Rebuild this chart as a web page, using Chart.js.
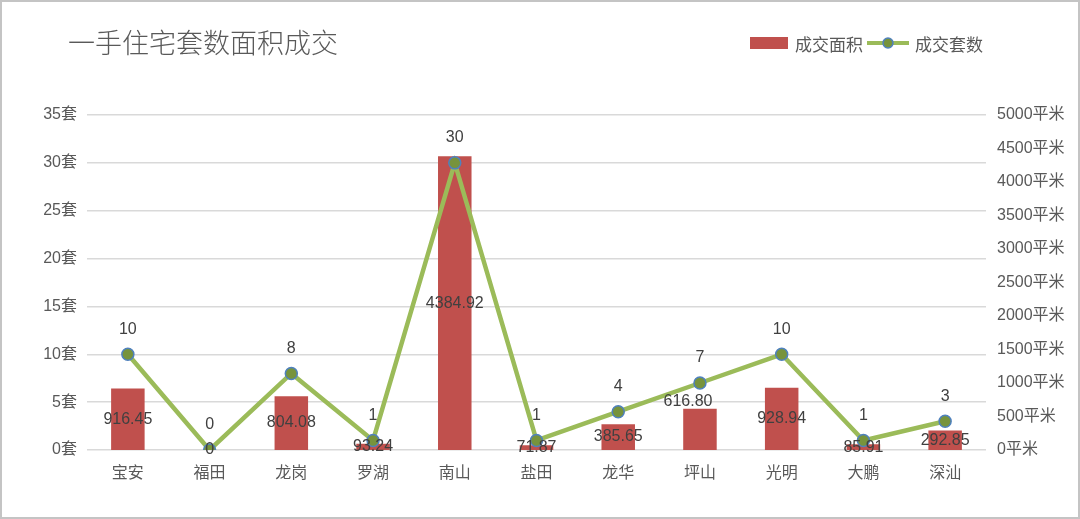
<!DOCTYPE html>
<html>
<head>
<meta charset="utf-8">
<script src="https://cdn.jsdelivr.net/npm/chart.js@4.4.1/dist/chart.umd.min.js"></script>
<style>
  body { margin: 0; background: #fff; }
  #wrap { position: relative; width: 1080px; height: 519px; overflow: hidden; background: #fff; }
  #frame { position: absolute; left: 0; top: 0; width: 1080px; height: 519px; box-sizing: border-box;
           border: 2px solid #c4c4c4; pointer-events: none; }
  #title { position: absolute; left: 68px; top: 23px; font: 300 27px 'Noto Sans CJK SC', sans-serif;
           color: #595959; line-height: 38px; white-space: nowrap; }
  #legend { position: absolute; left: 750px; top: 33px; height: 20px; display: flex; align-items: center;
            font: 17px 'Noto Sans CJK SC', sans-serif; color: #595959; white-space: nowrap; }
  #legend .item { display: flex; align-items: center; margin-right: 4px; }
  #legend .bar { width: 38px; height: 12px; margin-right: 7px; }
  #legend canvas { margin-right: 6px; }
</style>
</head>
<body>
<div id="wrap">
  <canvas id="myChart" width="1080" height="519"></canvas>
  <div id="title"></div>
  <div id="legend"></div>
  <div id="frame"></div>
</div>
<script>
// chart data
const chartTitle = "一手住宅套数面积成交";
const districts = ["宝安", "福田", "龙岗", "罗湖", "南山", "盐田", "龙华", "坪山", "光明", "大鹏", "深汕"];
const areaValues = [916.45, 0, 804.08, 93.24, 4384.92, 71.87, 385.65, 616.80, 928.94, 85.91, 292.85];
const unitValues = [10, 0, 8, 1, 30, 1, 4, 7, 10, 1, 3];
const seriesNames = ["成交面积", "成交套数"];
const unitAxisMax = 35, unitAxisStep = 5, unitSuffix = "套";
const areaAxisMax = 5000, areaAxisStep = 500, areaSuffix = "平米";

const FONT = "'Liberation Sans', 'Noto Sans CJK SC', sans-serif";
const barColor = "#C0504D";
const lineColor = "#9BBB59";
const pointFill = "#77933C";
const pointEdge = "#4F81BD";

// title + legend (html)
document.getElementById("title").textContent = chartTitle;

function buildLegend() {
  const legend = document.getElementById("legend");

  const barItem = document.createElement("div");
  barItem.className = "item";
  const sw = document.createElement("span");
  sw.className = "bar";
  sw.style.background = barColor;
  barItem.appendChild(sw);
  barItem.appendChild(document.createTextNode(seriesNames[0]));
  legend.appendChild(barItem);

  const lineItem = document.createElement("div");
  lineItem.className = "item";
  const c = document.createElement("canvas");
  c.width = 42; c.height = 14;
  const g = c.getContext("2d");
  g.strokeStyle = lineColor; g.lineWidth = 4;
  g.beginPath(); g.moveTo(0, 7); g.lineTo(42, 7); g.stroke();
  g.beginPath(); g.arc(21, 7, 5, 0, Math.PI * 2);
  g.fillStyle = pointFill; g.fill();
  g.strokeStyle = pointEdge; g.lineWidth = 1.5; g.stroke();
  lineItem.appendChild(c);
  lineItem.appendChild(document.createTextNode(seriesNames[1]));
  legend.appendChild(lineItem);
}
buildLegend();

function fmtArea(v) {
  return v === 0 ? "0" : v.toFixed(2);
}

// value labels on bars and points
const valueLabels = {
  id: "valueLabels",
  afterDatasetsDraw(chart) {
    const ctx = chart.ctx;
    ctx.save();
    ctx.font = "16px " + FONT;
    ctx.fillStyle = "#404040";
    ctx.textAlign = "center";
    ctx.textBaseline = "middle";

    chart.getDatasetMeta(0).data.forEach((bar, i) => {
      let x = bar.x;
      let y = (bar.y + bar.base) / 2;
      // 坪山 label sits above its bar in the original
      if (i === 7) { x -= 12; y = bar.y - 7; }
      ctx.fillText(fmtArea(areaValues[i]), x, y);
    });

    chart.getDatasetMeta(1).data.forEach((pt, i) => {
      ctx.fillText(String(unitValues[i]), pt.x, pt.y - 25);
    });
    ctx.restore();
  }
};

const ctx = document.getElementById("myChart").getContext("2d");
const myChart = new Chart(ctx, {
  type: "bar",
  data: {
    labels: districts,
    datasets: [
      {
        type: "bar",
        label: seriesNames[0],
        data: areaValues,
        yAxisID: "yArea",
        backgroundColor: barColor,
        barPercentage: 0.41,
        categoryPercentage: 1,
        order: 2
      },
      {
        type: "line",
        label: seriesNames[1],
        data: unitValues,
        yAxisID: "yUnit",
        borderColor: lineColor,
        borderWidth: 4.5,
        tension: 0,
        pointRadius: 6,
        pointBackgroundColor: pointFill,
        pointBorderColor: pointEdge,
        pointBorderWidth: 1.5,
        order: 1
      }
    ]
  },
  options: {
    responsive: false,
    animation: false,
    devicePixelRatio: 1,
    layout: { padding: { top: 115, left: 0, right: 0, bottom: 0 } },
    plugins: {
      legend: { display: false },
      title: { display: false },
      tooltip: { enabled: false }
    },
    scales: {
      x: {
        offset: true,
        grid: { display: false },
        border: { display: false },
        ticks: { color: "#595959", font: { family: FONT, size: 16 }, padding: 6, maxRotation: 0 },
        afterFit(scale) { scale.height = 69; }
      },
      yUnit: {
        position: "left",
        min: 0,
        max: unitAxisMax,
        ticks: {
          stepSize: unitAxisStep,
          padding: 10,
          color: "#595959",
          font: { family: FONT, size: 16 },
          callback: v => v + unitSuffix
        },
        grid: { color: "#d9d9d9", lineWidth: 1.5, drawTicks: false },
        border: { display: false },
        afterFit(scale) { scale.width = 87; }
      },
      yArea: {
        position: "right",
        min: 0,
        max: areaAxisMax,
        ticks: {
          stepSize: areaAxisStep,
          padding: 11,
          color: "#595959",
          font: { family: FONT, size: 16 },
          callback: v => v + areaSuffix
        },
        grid: { display: false, drawTicks: false },
        border: { display: false },
        afterFit(scale) { scale.width = 94; }
      }
    }
  },
  plugins: [valueLabels]
});
</script>
</body>
</html>
